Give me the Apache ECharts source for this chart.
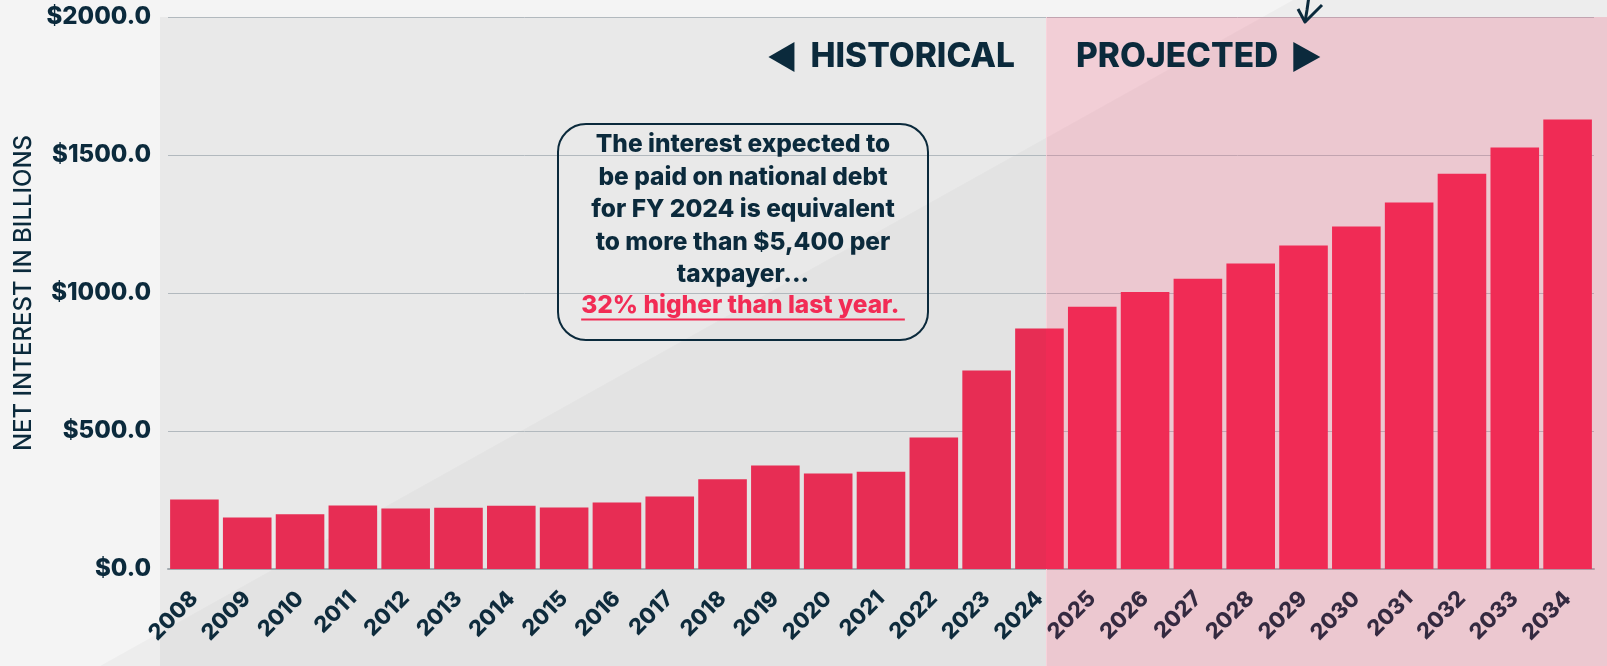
<!DOCTYPE html>
<html>

<head>
    <meta charset="utf-8">
    <title>Net interest</title>
    <script src="https://cdn.jsdelivr.net/npm/echarts@6/dist/echarts.min.js"></script>
    <style>
        html, body { margin: 0; padding: 0; background: #f4f4f4; }
        #main { width: 1607px; height: 666px; }
    </style>
</head>

<body>
    <div id="main"></div>
</body>
<script>
    // data (billions of dollars)
    var years = ['2008', '2009', '2010', '2011', '2012', '2013', '2014', '2015', '2016', '2017',
        '2018', '2019', '2020', '2021', '2022', '2023', '2024', '2025', '2026', '2027',
        '2028', '2029', '2030', '2031', '2032', '2033', '2034'];
    var netInterest = [252, 187, 198, 230, 219, 222, 229, 223, 241, 263,
        325, 375, 346, 352, 476, 719, 871, 950, 1004, 1052,
        1107, 1172, 1241, 1328, 1432, 1527, 1629];
    var yMax = 2000;
    var yStep = 500;
    var splitYear = '2024';
    var noteLines = ['The interest expected to', 'be paid on national debt', 'for FY 2024 is equivalent',
        'to more than $5,400 per', 'taxpayer...'];
    var noteHighlight = '32% higher than last year. ';

    var FONT = 'Inter, "Open Sans", sans-serif';
    var NAVY = '#0b2a3c';
    var RED = '#f22c55';
    var HEAVY = 800;

    var measureCtx = document.createElement('canvas').getContext('2d');
    function textWidth(str, size, weight) {
        measureCtx.font = weight + ' ' + size + 'px ' + FONT;
        return measureCtx.measureText(str).width;
    }

    var chart = echarts.init(document.getElementById('main'));
    chart.setOption({
        backgroundColor: '#f4f4f4',
        animation: false,
        grid: { left: 168, right: 13, top: 17, bottom: 97 },
        xAxis: {
            type: 'category',
            data: years,
            axisTick: { show: false },
            axisLine: { lineStyle: { color: '#a9b1b6', width: 2 } },
            axisLabel: {
                interval: 0, rotate: 45, margin: 26,
                fontFamily: FONT, fontSize: 22, fontWeight: HEAVY, color: NAVY
            }
        },
        yAxis: {
            type: 'value',
            min: 0, max: yMax, interval: yStep,
            name: 'NET INTEREST IN BILLIONS',
            nameLocation: 'middle',
            nameGap: 132,
            nameTextStyle: { fontFamily: FONT, fontSize: 24, fontWeight: 500, color: NAVY },
            axisLabel: {
                margin: 17, fontFamily: FONT, fontSize: 24, fontWeight: HEAVY, color: NAVY,
                formatter: function (v) { return '$' + v.toFixed(1); }
            },
            splitLine: { lineStyle: { color: '#b9c1c6', width: 1 } }
        },
        series: [{
            type: 'bar',
            data: netInterest,
            barCategoryGap: '8%',
            itemStyle: { color: RED }
        }]
    });

    // decorations placed from the axes
    var W = chart.getWidth(), H = chart.getHeight();
    var splitIdx = years.indexOf(splitYear);
    var c0 = chart.convertToPixel({ xAxisIndex: 0 }, years[splitIdx]);
    var c1 = chart.convertToPixel({ xAxisIndex: 0 }, years[splitIdx + 1]);
    var band = c1 - c0;
    var splitX = Math.round(c0 + band * 0.125);
    var topY = chart.convertToPixel({ yAxisIndex: 0 }, yMax);
    var leftX = chart.convertToPixel({ xAxisIndex: 0 }, years[0]) - band / 2 - 8;

    var labelSize = 33.5;
    var histW = textWidth('HISTORICAL', labelSize, HEAVY);
    var projW = textWidth('PROJECTED', labelSize, HEAVY);
    var labelY = 57;
    var histRight = splitX - 31;
    var projLeft = splitX + 30;
    var triL = histRight - histW - 16;
    var triR = projLeft + projW + 15;

    var noteBox = { x: 558, y: 124, w: 370, h: 216 };
    var noteCx = noteBox.x + noteBox.w / 2;
    var noteSize = 24.5;
    var lineH = 32.5;
    var graphics = [
        {
            type: 'polygon', z: -1, silent: true,
            shape: { points: [[100, H], [1293, 0], [W, 0], [W, H]] },
            style: { fill: 'rgba(0,0,0,0.028)' }
        },
        {
            type: 'rect', z: 10, silent: true,
            shape: { x: leftX, y: topY, width: splitX - leftX, height: H - topY },
            style: { fill: 'rgba(60,60,60,0.06)' }
        },
        {
            type: 'rect', z: 10, silent: true,
            shape: { x: splitX, y: topY, width: W - splitX, height: H - topY },
            style: { fill: 'rgba(233,45,86,0.19)' }
        },
        {
            type: 'line', z: 1, silent: true,
            shape: { x1: splitX + 0.5, y1: topY, x2: splitX + 0.5, y2: H },
            style: { stroke: 'rgba(255,255,255,0.7)', lineWidth: 1 }
        },
        {
            type: 'text', z: 20, x: histRight, y: labelY,
            style: {
                text: 'HISTORICAL', align: 'right', verticalAlign: 'middle',
                fontFamily: FONT, fontSize: labelSize, fontWeight: HEAVY, fill: NAVY
            }
        },
        {
            type: 'polygon', z: 20,
            shape: { points: [[triL - 26, labelY], [triL, labelY - 15], [triL, labelY + 15]] },
            style: { fill: NAVY }
        },
        {
            type: 'text', z: 20, x: projLeft, y: labelY,
            style: {
                text: 'PROJECTED', align: 'left', verticalAlign: 'middle',
                fontFamily: FONT, fontSize: labelSize, fontWeight: HEAVY, fill: NAVY
            }
        },
        {
            type: 'polygon', z: 20,
            shape: { points: [[triR, labelY - 15], [triR + 27, labelY], [triR, labelY + 15]] },
            style: { fill: NAVY }
        },
        {
            type: 'polyline', z: 20,
            shape: { points: [[1309, -4], [1307, 10], [1305, 22]] },
            style: { stroke: NAVY, lineWidth: 3, fill: null }
        },
        {
            type: 'polyline', z: 20,
            shape: { points: [[1298, 9], [1305, 22], [1322, 5]] },
            style: { stroke: NAVY, lineWidth: 3, fill: null, lineJoin: 'round' }
        },
        {
            type: 'rect', z: 20,
            shape: { x: noteBox.x, y: noteBox.y, width: noteBox.w, height: noteBox.h, r: 28 },
            style: { fill: 'transparent', stroke: NAVY, lineWidth: 2 }
        }
    ];
    var firstLineY = 145;
    noteLines.forEach(function (t, i) {
        graphics.push({
            type: 'text', z: 20, x: noteCx, y: firstLineY + i * lineH,
            style: {
                text: t, align: 'center', verticalAlign: 'middle',
                fontFamily: FONT, fontSize: noteSize, fontWeight: HEAVY, fill: NAVY
            }
        });
    });
    var hlY = firstLineY + noteLines.length * lineH - 2;
    var hlW = textWidth(noteHighlight, noteSize, HEAVY);
    graphics.push({
        type: 'text', z: 20, x: noteCx, y: hlY,
        style: {
            text: noteHighlight, align: 'center', verticalAlign: 'middle',
            fontFamily: FONT, fontSize: noteSize, fontWeight: HEAVY, fill: RED
        }
    });
    graphics.push({
        type: 'line', z: 20,
        shape: { x1: noteCx - hlW / 2, y1: hlY + 14, x2: noteCx + hlW / 2, y2: hlY + 14 },
        style: { stroke: RED, lineWidth: 2 }
    });

    chart.setOption({ graphic: graphics });
</script>

</html>
